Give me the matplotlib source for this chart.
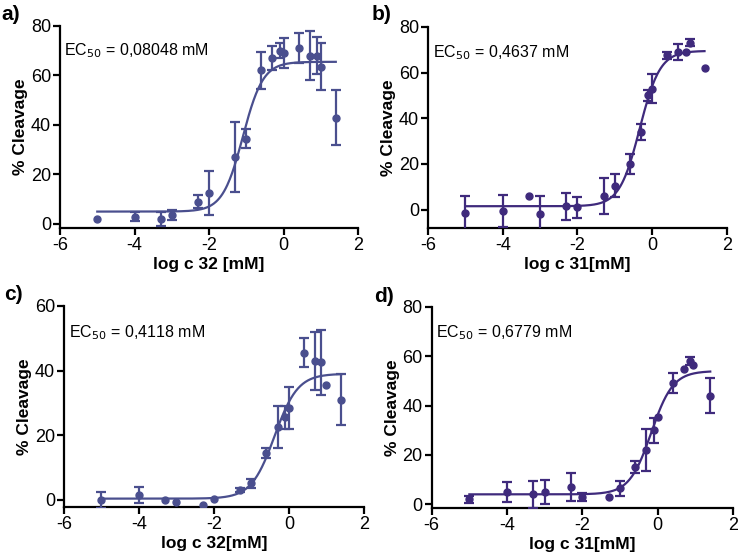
import numpy as np
import matplotlib.pyplot as plt

plt.rcParams['font.family'] = ['Liberation Sans', 'DejaVu Sans']

# panel a: log c 32
a_x = [-5, -4, -3.3, -3, -2.3, -2, -1.3, -1, -0.6, -0.3, -0.1, 0, 0.4, 0.7, 0.9, 1.0, 1.4]
a_y = [2, 3, 2, 3.5, 9, 12.5, 27, 34.5, 62, 67, 70, 69, 71, 68, 68, 63.5, 43]
a_err = [0, 2, 3, 2, 2.5, 9, 14, 4, 7.5, 5, 3, 6, 6, 10, 7.5, 9.5, 11]

# panel b: log c 31
b_x = [-5, -4, -3.3, -3, -2.3, -2, -1.3, -1, -0.6, -0.3, -0.1, 0, 0.4, 0.7, 0.9, 1.0, 1.4]
b_y = [-1.5, -0.5, 6, -2, 1.5, 1, 6, 10.5, 20, 34, 50, 53, 67.5, 69, 69, 73, 62]
b_err = [7.5, 7, 0, 8, 6, 4.5, 8, 5, 4.5, 3.5, 2.5, 6.5, 1.5, 3.5, 0, 1.5, 0]

# panel c: log c 32
c_x = [-5, -4, -3.3, -3, -2.3, -2, -1.3, -1, -0.6, -0.3, -0.1, 0, 0.4, 0.7, 0.85, 1.0, 1.4]
c_y = [0, 1.5, 0, -0.8, -1.8, 0.2, 3, 5, 14.5, 22.5, 25.5, 28.5, 45.5, 43, 42.5, 35.5, 31]
c_err = [2.5, 2.5, 0, 0, 0, 0, 0.5, 1.5, 1.5, 6.5, 3.5, 6.5, 4.5, 9, 10, 0, 8]

# panel d: log c 31
d_x = [-5, -4, -3.3, -3, -2.3, -2, -1.3, -1, -0.6, -0.3, -0.1, 0, 0.4, 0.7, 0.85, 0.95, 1.4]
d_y = [2, 5, 4, 5, 7, 3, 3, 6.5, 15, 22, 30, 35.5, 49, 55, 58, 56.5, 44]
d_err = [1.5, 4, 5.5, 5, 5.5, 1.5, 0, 3, 2.5, 8.5, 5, 0, 4, 0, 1.5, 0, 7]

# sigmoidal fit parameters: bottom, top, EC50 (mM), hill slope
a_fit = [5, 65.5, 0.08048, 1.6]
b_fit = [1.5, 69.5, 0.4637, 1.6]
c_fit = [0.3, 39, 0.4118, 1.4]
d_fit = [4, 54, 0.6779, 1.5]

ec50_labels = ["0,08048", "0,4637", "0,4118", "0,6779"]
xlabels = ["log c 32 [mM]", "log c 31[mM]", "log c 32[mM]", "log c 31[mM]"]
panel_names = ["a)", "b)", "c)", "d)"]

col_light = "#4a4f8e"
col_dark = "#3f2a7c"

fig = plt.figure(figsize=(7.38, 5.6), dpi=100)

panels = [
    (a_x, a_y, a_err, a_fit, [0.0813, 0.593, 0.404, 0.3607], (-1.6, 80), [0, 20, 40, 60, 80], col_light),
    (b_x, b_y, b_err, b_fit, [0.580, 0.593, 0.405, 0.359], (-8, 80), [0, 20, 40, 60, 80], col_dark),
    (c_x, c_y, c_err, c_fit, [0.0867, 0.0946, 0.4065, 0.359], (-2.3, 60), [0, 20, 40, 60], col_light),
    (d_x, d_y, d_err, d_fit, [0.585, 0.093, 0.408, 0.359], (-1.5, 80), [0, 20, 40, 60, 80], col_dark),
]

label_pos = [(11, 14), (382, 14), (13, 294), (384, 296)]
text_pos = [(0.012, 0.88), (0.017, 0.87), (0.017, 0.866), (0.013, 0.87)]

for i, (xs, ys, errs, fit, rect, ylim, yticks, col) in enumerate(panels):
    ax = fig.add_axes(rect)
    xs = np.array(xs)
    ys = np.array(ys)
    errs = np.array(errs)
    has_err = errs > 0
    # error bars only where an error was drawn in the original
    ax.errorbar(xs[has_err], ys[has_err], yerr=errs[has_err], fmt='none', ecolor=col,
                elinewidth=1.6, capsize=3.5, capthick=1.6, zorder=3)
    ax.plot(xs, ys, 'o', color=col, markersize=5, zorder=4)
    bottom, top, ec50, hill = fit
    xc = np.linspace(-5, 1.4, 300)
    yc = bottom + (top - bottom) / (1 + 10 ** ((np.log10(ec50) - xc) * hill))
    ax.plot(xc, yc, color=col, linewidth=1.6, zorder=2)

    ax.set_xlim(-6, 2)
    ax.set_ylim(*ylim)
    ax.set_xticks([-6, -4, -2, 0, 2])
    ax.set_xticklabels(["-6", "-4", "-2", "0", "2"])
    ax.set_yticks(yticks)
    ax.spines['top'].set_visible(False)
    ax.spines['right'].set_visible(False)
    ax.spines['left'].set_linewidth(1.6)
    ax.spines['bottom'].set_linewidth(1.6)
    ax.tick_params(direction='out', length=5, width=1.6, labelsize=13, pad=1.5)
    ax.set_xlabel(xlabels[i], fontsize=12.5, fontweight='bold', labelpad=2)
    ax.set_ylabel("% Cleavage", fontsize=12.5, fontweight='bold', labelpad=2)
    ax.text(text_pos[i][0], text_pos[i][1],
            "EC$_{50}$ = " + ec50_labels[i] + " mM",
            transform=ax.transAxes, fontsize=11.5, va='center', ha='left')

    fig.text(label_pos[i][0] / 738, 1 - label_pos[i][1] / 560, panel_names[i],
             fontsize=15, fontweight='bold', ha='center', va='center')

fig.savefig("out.png", dpi=100)
